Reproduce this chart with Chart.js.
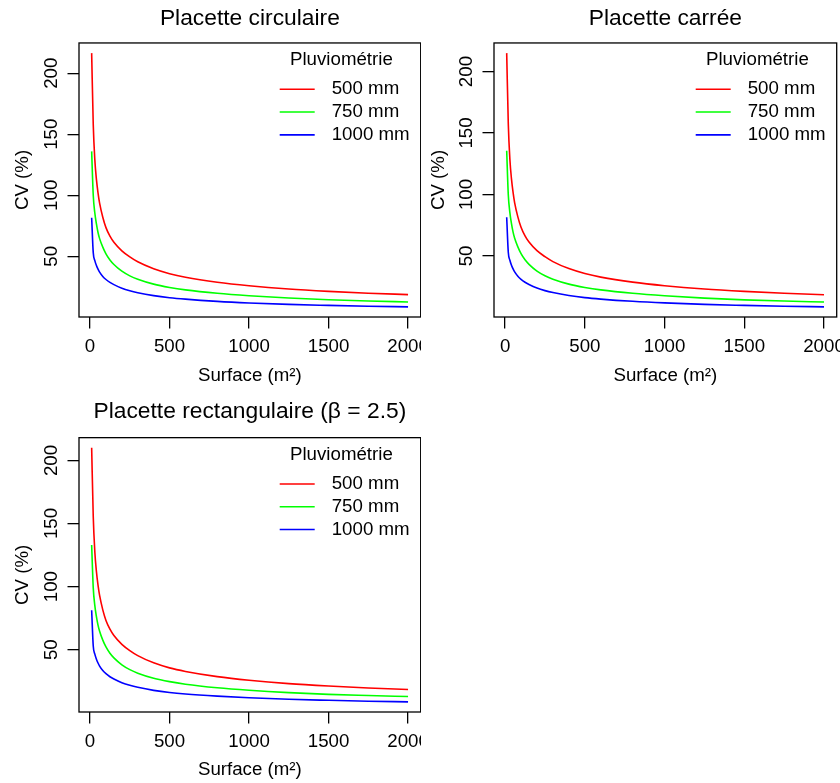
<!DOCTYPE html>
<html lang="fr">
<head>
<meta charset="utf-8">
<title>CV selon la surface de placette</title>
<script src="https://cdn.jsdelivr.net/npm/chart.js@4.4.1/dist/chart.umd.min.js"></script>
<style>
  html, body { margin: 0; padding: 0; background: #fff; }
  body { position: relative; width: 840px; height: 783px; overflow: hidden; }
  canvas { position: absolute; }
  #plot-circ { left: 0; top: 0; }
  #plot-carr { left: 420px; top: 0; }
  #plot-rect { left: 0; top: 391px; }
</style>
</head>
<body>
<canvas id="plot-circ" width="421" height="390"></canvas>
<canvas id="plot-carr" width="420" height="390"></canvas>
<canvas id="plot-rect" width="421" height="392"></canvas>
<script>
// surface de placette (m2)
const surfaces = [10, 20, 30, 40, 50, 60, 80, 100, 125, 150, 200, 250, 300, 400, 500, 600, 800, 1000, 1250, 1500, 1750, 2000];
const xTicks = [0, 500, 1000, 1500, 2000];
const yTicks = [50, 100, 150, 200];
const rainLabels = ['500 mm', '750 mm', '1000 mm'];
const rainColors = ['#ff0000', '#00ff00', '#0000ff'];

// CV (%)
const circ500  = [216.5, 158, 129, 113, 102, 93.5, 82, 73.5, 66.5, 61.5, 54.5, 49.5, 45.5, 39.8, 35.8, 32.9, 28.8, 25.9, 23.2, 21.3, 19.8, 18.6];
const circ750  = [136, 100, 85.5, 76.5, 69.5, 64.5, 57.5, 52, 47, 43.3, 37.8, 34, 31.2, 27.2, 24.5, 22.5, 19.7, 17.7, 15.8, 14.4, 13.4, 12.6];
const circ1000 = [81.6, 53, 46.5, 42.5, 39.5, 37, 33.5, 31, 28.6, 26.8, 23.9, 21.8, 20.2, 17.8, 16.1, 14.9, 13.1, 11.8, 10.6, 9.8, 9.1, 8.6];

const carr500  = [215, 157.5, 128.6, 112.7, 101.7, 93.2, 81.8, 73.3, 66.3, 61.3, 54.3, 49.4, 45.4, 39.7, 35.7, 32.8, 28.7, 25.8, 23.1, 21.2, 19.7, 18.5];
const carr750  = [135.5, 99.8, 85.3, 76.3, 69.4, 64.4, 57.4, 51.9, 46.9, 43.2, 37.7, 33.9, 31.1, 27.1, 24.4, 22.4, 19.6, 17.6, 15.7, 14.3, 13.3, 12.5];
const carr1000 = [81.5, 53, 46.5, 42.5, 39.5, 37, 33.5, 31, 28.6, 26.8, 23.9, 21.8, 20.2, 17.8, 16.1, 14.9, 13.1, 11.8, 10.6, 9.8, 9.1, 8.6];

const rect500  = [210, 155.5, 127.5, 112, 101.2, 93, 81.6, 73.2, 66.3, 61.3, 54.3, 49.3, 45.3, 39.6, 35.6, 32.8, 28.7, 25.8, 23.1, 21.2, 19.7, 18.5];
const rect750  = [133, 99, 85, 76.2, 69.5, 64.6, 57.6, 52.2, 47.2, 43.5, 38, 34.2, 31.4, 27.4, 24.7, 22.7, 19.9, 17.9, 16, 14.6, 13.7, 12.9];
const rect1000 = [81.3, 53, 46.5, 42.5, 39.5, 37, 33.5, 31, 28.6, 26.8, 23.9, 21.8, 20.2, 17.8, 16.1, 14.9, 13.2, 11.9, 10.7, 9.9, 9.2, 8.7];

(function () {
  'use strict';

  const FAMILY = '"Liberation Sans", Arial, Helvetica, sans-serif';
  const TEXT_SIZE = 18.7;

  // R style range: data range widened by 4% on each side
  function widen(values) {
    const lo = Math.min(...values);
    const hi = Math.max(...values);
    const pad = (hi - lo) * 0.04;
    return [lo - pad, hi + pad];
  }

  function noEdgePadding(scale) {
    scale.paddingLeft = 0;
    scale.paddingRight = 0;
    scale.paddingTop = 0;
    scale.paddingBottom = 0;
  }

  const boxAndLegend = {
    id: 'boxAndLegend',
    afterDatasetsDraw(chart) {
      const { ctx, chartArea: a } = chart;
      ctx.save();
      ctx.fillStyle = '#000';
      ctx.font = `${TEXT_SIZE}px ${FAMILY}`;
      ctx.textBaseline = 'middle';
      ctx.textAlign = 'center';
      ctx.fillText('Pluviométrie', a.right - 79.3, a.top + 17);
      ctx.textAlign = 'left';
      chart.data.datasets.forEach((ds, i) => {
        const y = a.top + 46.3 + i * 22.8;
        ctx.strokeStyle = ds.borderColor;
        ctx.lineWidth = 1.6;
        ctx.beginPath();
        ctx.moveTo(a.right - 141, y);
        ctx.lineTo(a.right - 106, y);
        ctx.stroke();
        ctx.fillText(ds.label, a.right - 89, y);
      });
      ctx.strokeStyle = '#000';
      ctx.lineWidth = 1.3;
      ctx.strokeRect(a.left, a.top, a.right - a.left, a.bottom - a.top);
      ctx.restore();
    }
  };

  function makePanel(canvasId, title, series, geo) {
    const canvas = document.getElementById(canvasId);
    const [xMin, xMax] = widen(surfaces);
    const [yMin, yMax] = widen(series.flat());
    const font = { family: FAMILY, size: TEXT_SIZE };

    return new Chart(canvas, {
      type: 'line',
      data: {
        datasets: series.map((values, i) => ({
          label: rainLabels[i],
          data: surfaces.map((s, j) => ({ x: s, y: values[j] })),
          borderColor: rainColors[i],
          borderWidth: 1.6,
          pointRadius: 0,
          fill: false,
          cubicInterpolationMode: 'monotone'
        }))
      },
      options: {
        responsive: false,
        animation: false,
        events: [],
        layout: { padding: { left: 0, top: 0, right: geo.padRight, bottom: 0 } },
        plugins: {
          legend: { display: false },
          tooltip: { enabled: false },
          title: {
            display: true,
            text: title,
            fullSize: false,
            color: '#000',
            font: { family: FAMILY, size: 22.8, weight: 'normal' },
            padding: geo.titlePad
          }
        },
        scales: {
          x: {
            type: 'linear',
            min: xMin,
            max: xMax,
            afterBuildTicks: (scale) => { scale.ticks = xTicks.map((v) => ({ value: v })); },
            afterFit: (scale) => { scale.height = geo.xHeight; noEdgePadding(scale); },
            grid: { drawOnChartArea: false, drawTicks: true, tickLength: 11.5, color: '#000', lineWidth: 1.3 },
            border: { display: false },
            ticks: { color: '#000', font, padding: 7.4, maxRotation: 0, autoSkip: false, callback: (v) => String(v) },
            title: { display: true, text: 'Surface (m²)', color: '#000', font, padding: { top: 0, bottom: geo.xTitleBottom } }
          },
          y: {
            type: 'linear',
            min: yMin,
            max: yMax,
            afterBuildTicks: (scale) => { scale.ticks = yTicks.map((v) => ({ value: v })); },
            afterFit: (scale) => { scale.width = geo.yWidth; noEdgePadding(scale); },
            grid: { drawOnChartArea: false, drawTicks: true, tickLength: 11.5, color: '#000', lineWidth: 1.3 },
            border: { display: false },
            ticks: { color: '#000', font, padding: 0, minRotation: 90, maxRotation: 90, crossAlign: 'center', autoSkip: false, callback: (v) => String(v) },
            title: { display: true, text: 'CV (%)', color: '#000', font, padding: { top: geo.yTitleTop, bottom: 0 } }
          }
        }
      },
      plugins: [boxAndLegend]
    });
  }

  makePanel('plot-circ', 'Placette circulaire', [circ500, circ750, circ1000], {
    padRight: 0.3, yWidth: 79, xHeight: 73, titlePad: { top: 5, bottom: 10.6 }, xTitleBottom: 2.9, yTitleTop: 11.4
  });
  makePanel('plot-carr', 'Placette carrée', [carr500, carr750, carr1000], {
    padRight: 3.3, yWidth: 74, xHeight: 73, titlePad: { top: 5, bottom: 10.6 }, xTitleBottom: 2.9, yTitleTop: 7.2
  });
  makePanel('plot-rect', 'Placette rectangulaire (β = 2.5)', [rect500, rect750, rect1000], {
    padRight: 0.3, yWidth: 79, xHeight: 71, titlePad: { top: 7.5, bottom: 11.8 }, xTitleBottom: 1.9, yTitleTop: 11.4
  });
})();
</script>
</body>
</html>
